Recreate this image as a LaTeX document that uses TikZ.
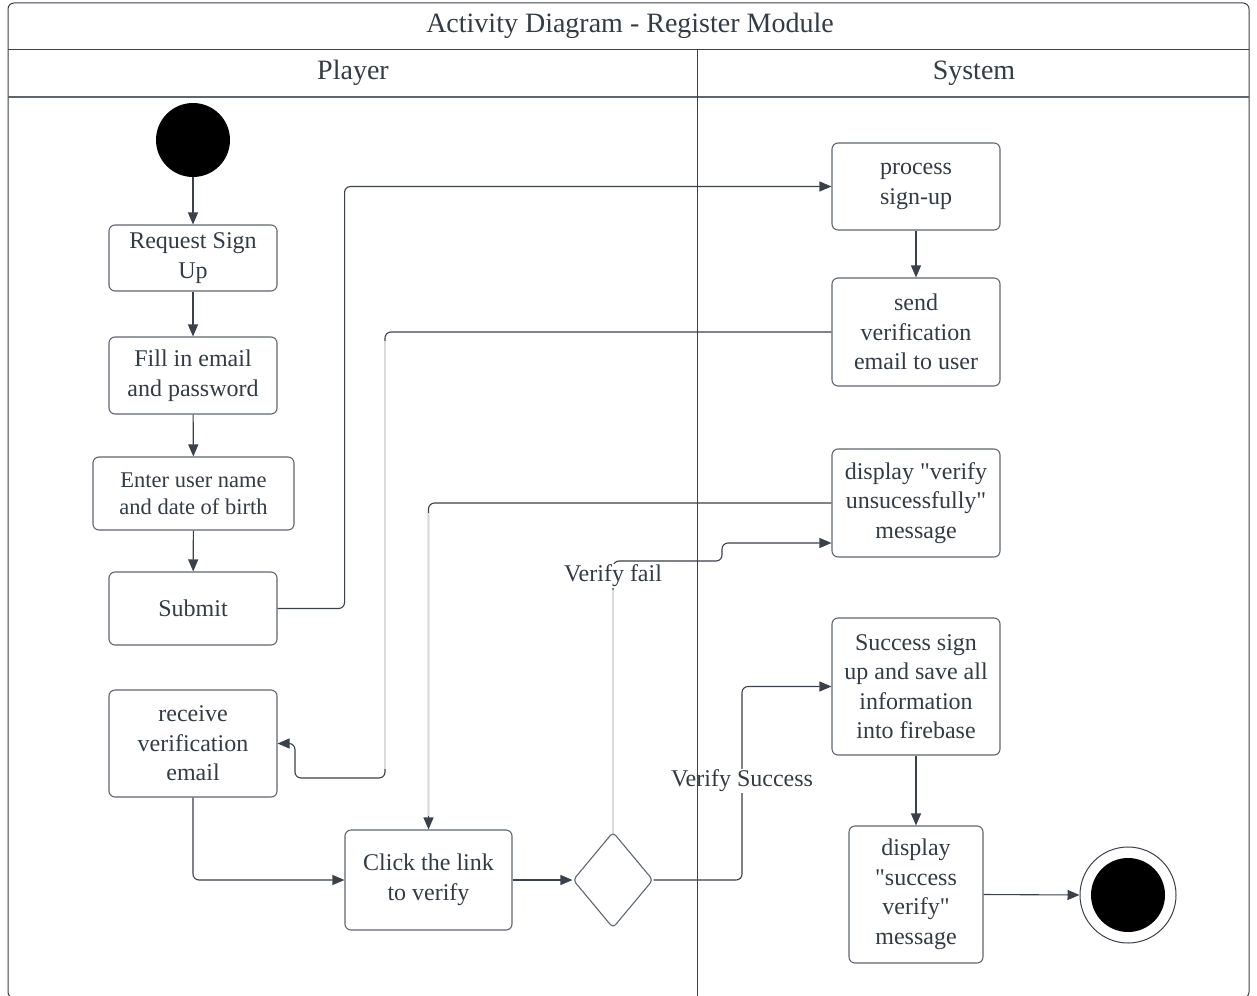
\documentclass[tikz,border=0pt]{standalone}
\usepackage{fontspec}
\setmainfont{Liberation Serif}[Ligatures=TeXOff]
\usetikzlibrary{arrows.meta,shapes.geometric,calc}
\definecolor{ln}{HTML}{3A414A}
\definecolor{bx}{HTML}{5F6670}
\definecolor{tx}{HTML}{333B45}
\definecolor{faint}{HTML}{DADADA}
\begin{document}
\begin{tikzpicture}[x=1pt,y=-1pt,
  act/.style={draw=bx, line width=1.1pt, rounded corners=6pt, fill=white, align=center,
    text=tx, font=\fontsize{24}{29.5}\selectfont, inner sep=0pt},
  flow/.style={draw=ln, line width=1.1pt, rounded corners=6pt,
    -{Triangle[length=12pt,width=10pt]}},
  faintseg/.style={draw=faint, line width=1.3pt},
  guard/.style={fill=white, text=tx, font=\fontsize{24}{29}\selectfont, inner sep=1pt},
  lane/.style={draw=ln, line width=1pt},
  hdr/.style={text=tx, font=\fontsize{28}{32}\selectfont}
]
\useasboundingbox (0,0) rectangle (1257,995);

% swimlane frame
\draw[lane, rounded corners=6pt] (8,3) rectangle (1249,998);
\draw[lane] (8,50) -- (1249,50);
\draw[draw=bx, line width=1.6pt] (8,97) -- (1249,97);
\node[hdr] (title) at (630,26) {Activity Diagram - Register Module};
\node[hdr] (player) at (353,73) {Player};
\node[hdr] (system) at (974,73) {System};

% activities
\node[circle, fill=black, minimum size=74pt, inner sep=0pt] (start) at (193,140) {};
\node[act, minimum width=168pt, minimum height=66pt] (req) at (193,258) {Request Sign\\Up};
\node[act, minimum width=168pt, minimum height=77pt] (fillin) at (193,375.5) {Fill in email\\and password};
\node[act, minimum width=201pt, minimum height=73pt, font=\fontsize{22.5}{27}\selectfont] (enter) at (193.5,493.5) {Enter user name\\and date of birth};
\node[act, minimum width=168pt, minimum height=73pt] (submit) at (193,608.5) {Submit};
\node[act, minimum width=168pt, minimum height=107pt] (recv) at (193,743.5) {receive\\verification\\email};
\node[act, minimum width=167pt, minimum height=100pt] (click) at (428.5,880) {Click the link\\to verify};
\node[diamond, draw=bx, line width=1.1pt, rounded corners=4pt, fill=white, minimum width=80pt, minimum height=96pt, inner sep=0pt] (dec) at (613,880) {};

\node[act, minimum width=168pt, minimum height=87pt] (proc) at (916,186.5) {process\\sign-up};
\node[act, minimum width=168pt, minimum height=108pt] (send) at (916,332) {send\\verification\\email to user};
\node[act, minimum width=168pt, minimum height=108pt] (fail) at (916,503) {display "verify\\unsucessfully"\\message};
\node[act, minimum width=168pt, minimum height=137pt] (succ) at (916,686.5) {Success sign\\up and save all\\information\\into firebase};
\node[act, minimum width=134pt, minimum height=137pt] (done) at (916,894.5) {display\\"success\\verify"\\message};
\node[circle, draw=ln, line width=1pt, fill=white, minimum size=96pt, inner sep=0pt] (end) at (1128,895) {};
\node[circle, fill=black, minimum size=74pt, inner sep=0pt] (endin) at (end.center) {};

% control flows
\draw[flow] (start) -- (req);
\draw[flow] (req) -- (fillin);
\draw[flow] (fillin) -- (enter);
\draw[flow] (enter) -- (submit);
\draw[flow] (submit.east) -- ++(67,0) |- (proc.west);
\draw[flow] (proc) -- (send);
\draw[flow] (send.west) -| (385,778) -| (295,743.5) -- (recv.east);
\draw[faintseg] (385,341) -- (385,769);
\draw[flow] (fail.west) -| (click.north);
\draw[faintseg] (428.5,513) -- (428.5,816);
\draw[flow] (recv.south) |- (click.west);
\draw[flow] (click.east) -- (dec.west);
\draw[flow] (dec.north) -- (613,561) -- (722,561) -- (722,543) -- ($(fail.west)+(0,40)$);
\draw[faintseg] (613,833) -- (613,590);
\draw[flow] (dec.east) -- (742,880) |- (succ.west);
\draw[flow] (succ) -- (done);
\draw[flow] (done.east) -- (end.west);

% guards
\node[guard] (gfail) at (613,576) {Verify fail};
\node[guard] (gok) at (742,781) {Verify Success};

% lane divider
\draw[lane] (697,50) -- (697,998);
\end{tikzpicture}
\end{document}
